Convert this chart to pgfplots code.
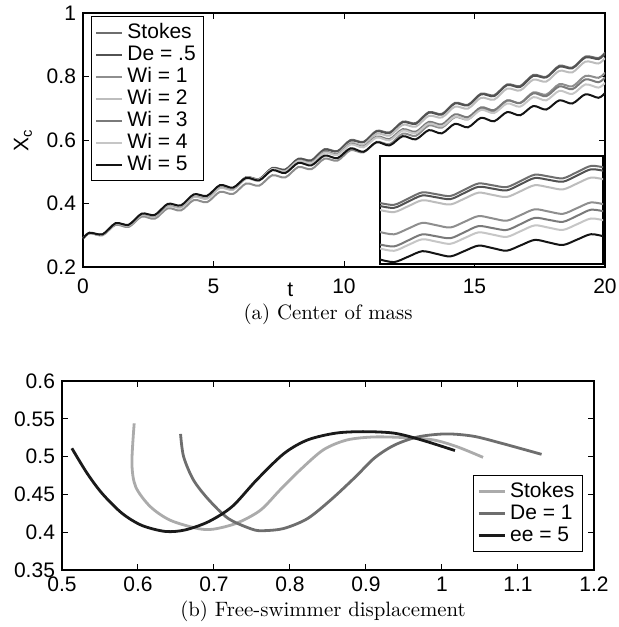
\documentclass[border=0pt]{standalone}
\usepackage{pgfplots}
\pgfplotsset{compat=1.18}
\usepackage{pgfplotstable}
\usepackage{fontspec}
\setsansfont{Liberation Sans}

\definecolor{cS}{HTML}{6E6E6E}
\definecolor{cD}{HTML}{525252}
\definecolor{cWa}{HTML}{8E8E8E}
\definecolor{cWb}{HTML}{BDBDBD}
\definecolor{cWc}{HTML}{7A7A7A}
\definecolor{cWd}{HTML}{C6C6C6}
\definecolor{cWe}{HTML}{141414}
\definecolor{bS}{HTML}{ABABAB}
\definecolor{bD}{HTML}{6E6E6E}
\definecolor{bE}{HTML}{1A1A1A}

% center of mass, all runs
\pgfplotstableread{
t S D W1 W2 W3 W4 W5
0 0.290 0.290 0.290 0.290 0.290 0.290 0.290
0.25 0.307 0.307 0.307 0.307 0.307 0.307 0.308
0.75 0.302 0.302 0.300 0.301 0.302 0.302 0.303
1.25 0.337 0.336 0.333 0.336 0.337 0.337 0.338
1.75 0.331 0.331 0.326 0.330 0.332 0.332 0.333
2.25 0.366 0.365 0.359 0.364 0.367 0.367 0.368
2.75 0.360 0.360 0.352 0.358 0.361 0.362 0.364
3.25 0.395 0.395 0.385 0.392 0.396 0.397 0.399
3.75 0.390 0.389 0.378 0.387 0.391 0.392 0.394
4.25 0.424 0.424 0.411 0.421 0.426 0.427 0.429
4.75 0.419 0.418 0.404 0.415 0.421 0.422 0.424
5.25 0.454 0.453 0.437 0.449 0.455 0.456 0.458
5.75 0.448 0.447 0.430 0.443 0.448 0.449 0.450
6.25 0.483 0.482 0.463 0.478 0.482 0.482 0.481
6.75 0.477 0.476 0.456 0.472 0.475 0.475 0.473
7.25 0.512 0.511 0.489 0.506 0.508 0.508 0.505
7.75 0.507 0.506 0.482 0.500 0.502 0.501 0.496
8.25 0.541 0.540 0.515 0.534 0.535 0.534 0.528
8.75 0.536 0.535 0.508 0.529 0.529 0.527 0.520
9.25 0.571 0.569 0.541 0.563 0.562 0.560 0.551
9.75 0.565 0.564 0.535 0.557 0.555 0.553 0.543
10.25 0.600 0.598 0.568 0.591 0.588 0.586 0.574
10.75 0.594 0.593 0.561 0.585 0.579 0.577 0.563
11.25 0.629 0.627 0.594 0.620 0.611 0.608 0.593
11.75 0.624 0.622 0.587 0.614 0.603 0.599 0.583
12.25 0.658 0.656 0.620 0.648 0.634 0.630 0.612
12.75 0.653 0.651 0.613 0.642 0.626 0.621 0.602
13.25 0.688 0.686 0.646 0.676 0.657 0.652 0.631
13.75 0.682 0.680 0.639 0.671 0.649 0.643 0.621
14.25 0.717 0.715 0.672 0.705 0.681 0.674 0.651
14.75 0.711 0.709 0.665 0.699 0.672 0.665 0.640
15.25 0.746 0.744 0.698 0.733 0.703 0.695 0.670
15.75 0.741 0.738 0.691 0.727 0.694 0.685 0.659
16.25 0.775 0.773 0.724 0.762 0.725 0.715 0.688
16.75 0.770 0.767 0.717 0.756 0.716 0.705 0.678
17.25 0.805 0.802 0.750 0.790 0.747 0.735 0.707
17.75 0.799 0.797 0.743 0.784 0.738 0.725 0.696
18.25 0.834 0.831 0.776 0.818 0.769 0.755 0.725
18.75 0.828 0.826 0.769 0.813 0.760 0.745 0.715
19.25 0.863 0.860 0.802 0.847 0.791 0.775 0.744
19.75 0.858 0.855 0.796 0.841 0.782 0.765 0.733
20 0.875 0.872 0.812 0.858 0.797 0.780 0.748
}\mainxc

% inset, zoomed (no scale shown)
\pgfplotstableread{
x S D W1 W2 W3 W4 W5
0 59.0 56.0 30.0 52.0 17.5 13.5 2.5
14.1 57.2 54.2 27.7 49.9 15.6 11.2 -0.1
28.2 63.4 60.4 33.4 55.8 21.6 17.0 5.3
42.2 69.6 66.5 39.1 61.7 27.6 22.7 10.8
56.3 67.8 64.7 36.8 59.6 25.7 20.4 8.2
70.4 66.0 62.9 34.5 57.5 23.8 18.2 5.6
84.5 72.3 69.1 40.2 63.4 29.8 23.9 11.0
98.5 78.5 75.2 45.9 69.3 35.9 29.6 16.4
112.6 76.7 73.4 43.6 67.1 33.9 27.4 13.9
126.7 74.9 71.6 41.3 65.0 32.0 25.1 11.3
140.8 81.1 77.8 47.0 70.9 38.0 30.9 16.7
154.8 87.3 84.0 52.7 76.8 44.1 36.6 22.1
168.9 85.5 82.1 50.4 74.7 42.1 34.3 19.5
183.0 83.7 80.3 48.2 72.6 40.2 32.1 17.0
197.1 89.9 86.5 53.9 78.5 46.2 37.8 22.4
211.1 96.1 92.7 59.6 84.4 52.3 43.5 27.8
225.2 94.3 90.8 57.3 82.3 50.3 41.3 25.2
}\insetxc

\pgfplotsset{
  mstyle/.style={
    scale only axis,
    axis line style={line width=0.6pt},
    tick align=inside,
    major tick length=3pt,
    tick style={black, line width=0.5pt},
    every tick label/.append style={font=\sffamily\fontsize{10.5}{12}\selectfont},
    /pgf/number format/assume math mode=true,
    label style={font=\sffamily\fontsize{10.5}{12}\selectfont},
    legend cell align=left,
    legend style={font=\sffamily\fontsize{10.5}{12}\selectfont, draw=black, line width=0.5pt,
      fill=white, inner xsep=2pt, inner ysep=2.5pt,
      nodes={text height=7.8pt, text depth=2.2pt, inner ysep=0.5pt, inner xsep=2pt}},
    legend image code/.code={\draw[#1] (0pt,0pt) -- (13pt,0pt);},
  }
}

\begin{document}
\begin{tikzpicture}
\useasboundingbox (0,0) rectangle (309pt,313.5pt);

\begin{axis}[mstyle, at={(41.5pt,180pt)}, anchor=south west,
  width=261pt, height=127pt,
  xmin=0, xmax=20, ymin=0.2, ymax=1,
  xtick={0,5,10,15,20}, ytick={0.2,0.4,0.6,0.8,1},
  xticklabel style={yshift=-2.5pt},
  xlabel={t},
  xlabel style={at={(axis description cs:0.397,0)}, anchor=center, yshift=-11.5pt},
  ylabel={X\textsubscript{c}},
  ylabel style={at={(axis description cs:-0.115,0.5)}, anchor=center},
  legend style={at={(0.0153,0.988)}, anchor=north west},
]
\addplot[cS, line width=1pt, smooth] table[x=t, y=S] {\mainxc};
\addlegendentry{Stokes}
\addplot[cD, line width=1pt, smooth] table[x=t, y=D] {\mainxc};
\addlegendentry{De = .5}
\addplot[cWa, line width=1pt, smooth] table[x=t, y=W1] {\mainxc};
\addlegendentry{Wi = 1}
\addplot[cWb, line width=1pt, smooth] table[x=t, y=W2] {\mainxc};
\addlegendentry{Wi = 2}
\addplot[cWc, line width=1pt, smooth] table[x=t, y=W3] {\mainxc};
\addlegendentry{Wi = 3}
\addplot[cWd, line width=1pt, smooth] table[x=t, y=W4] {\mainxc};
\addlegendentry{Wi = 4}
\addplot[cWe, line width=1pt, smooth] table[x=t, y=W5] {\mainxc};
\addlegendentry{Wi = 5}
\end{axis}

\begin{axis}[scale only axis, at={(190pt,181.5pt)}, anchor=south west,
  width=111.5pt, height=54pt,
  xmin=0, xmax=223, ymin=-2, ymax=106,
  ticks=none, axis line style={line width=0.6pt},
  axis background/.style={fill=white},
]
\addplot[cS, line width=1pt, smooth] table[x=x, y=S] {\insetxc};
\addplot[cD, line width=1pt, smooth] table[x=x, y=D] {\insetxc};
\addplot[cWa, line width=1pt, smooth] table[x=x, y=W1] {\insetxc};
\addplot[cWb, line width=1pt, smooth] table[x=x, y=W2] {\insetxc};
\addplot[cWc, line width=1pt, smooth] table[x=x, y=W3] {\insetxc};
\addplot[cWd, line width=1pt, smooth] table[x=x, y=W4] {\insetxc};
\addplot[cWe, line width=1pt, smooth] table[x=x, y=W5] {\insetxc};
\end{axis}

\node[font=\fontsize{10.4}{12}\selectfont] at (164pt,156.5pt) {(a) Center of mass};

\begin{axis}[mstyle, at={(31pt,28.5pt)}, anchor=south west,
  width=266pt, height=94.5pt,
  xmin=0.5, xmax=1.2, ymin=0.35, ymax=0.6,
  xtick={0.5,0.6,0.7,0.8,0.9,1,1.1,1.2},
  ytick={0.35,0.4,0.45,0.5,0.55,0.6},
  legend style={at={(0.979,0.095)}, anchor=south east},
]
\addplot[bS, line width=1.4pt, smooth] coordinates {
(0.595,0.544) (0.592,0.491) (0.597,0.460) (0.616,0.434) (0.642,0.416)
(0.678,0.405) (0.699,0.404) (0.730,0.412) (0.761,0.429) (0.787,0.456)
(0.813,0.482) (0.844,0.509) (0.875,0.522) (0.911,0.526) (0.953,0.525)
(0.989,0.522) (1.020,0.513) (1.054,0.499)
};
\addlegendentry{Stokes}
\addplot[bD, line width=1.4pt, smooth] coordinates {
(0.656,0.530) (0.660,0.500) (0.673,0.469) (0.693,0.443) (0.719,0.418)
(0.750,0.404) (0.765,0.402) (0.792,0.405) (0.823,0.418) (0.854,0.443)
(0.886,0.473) (0.911,0.498) (0.937,0.515) (0.968,0.526) (1.005,0.530)
(1.041,0.527) (1.077,0.518) (1.131,0.503)
};
\addlegendentry{De = 1}
\addplot[bE, line width=1.4pt, smooth] coordinates {
(0.513,0.511) (0.533,0.478) (0.553,0.451) (0.579,0.425) (0.605,0.409)
(0.636,0.401) (0.662,0.403) (0.693,0.414) (0.724,0.434) (0.756,0.469)
(0.792,0.504) (0.823,0.522) (0.860,0.531) (0.896,0.533) (0.937,0.531)
(0.973,0.522) (1.017,0.508)
};
\addlegendentry{ee = 5}
\end{axis}

\node[font=\fontsize{10.4}{12}\selectfont] at (161.5pt,8pt) {(b) Free-swimmer displacement};
\end{tikzpicture}
\end{document}
